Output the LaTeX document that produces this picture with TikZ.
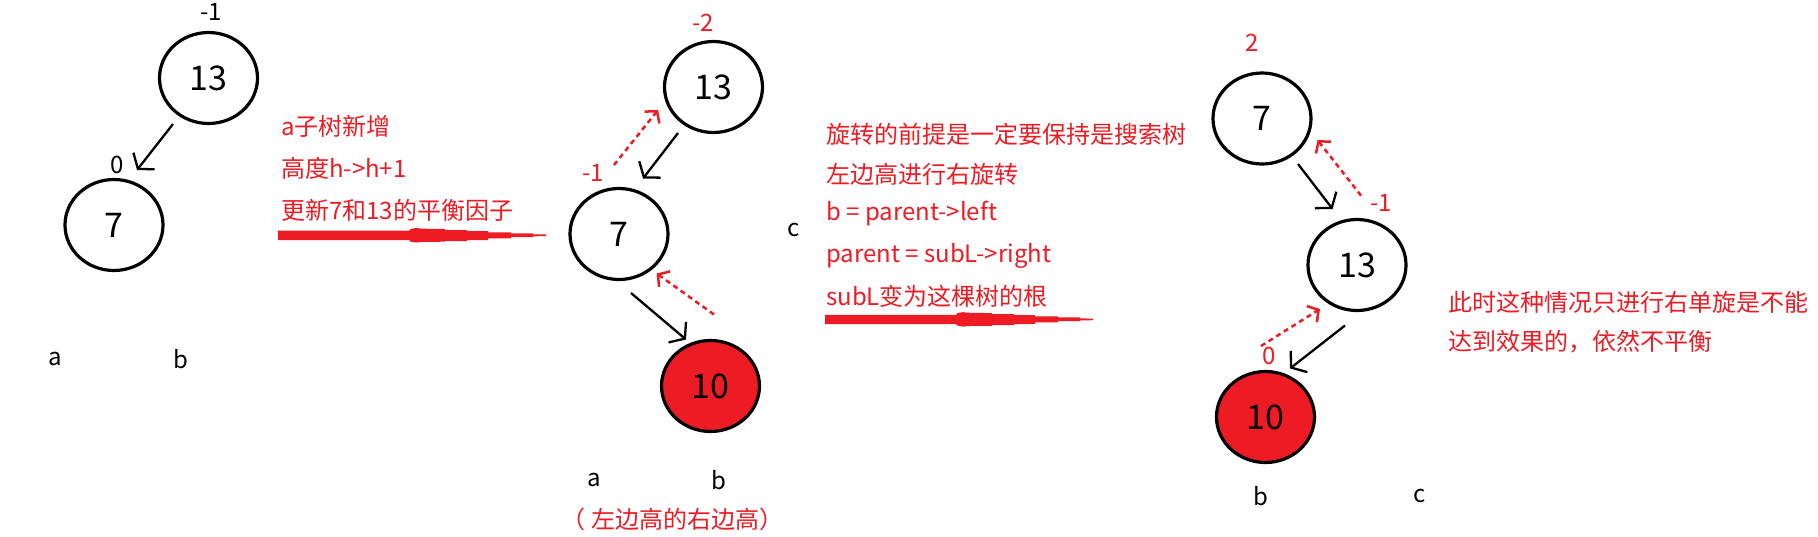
\documentclass[tikz,border=0pt]{standalone}
\usepackage{fontspec}
\setmainfont{Noto Sans CJK SC}
\usetikzlibrary{shapes.geometric,arrows.meta}
\definecolor{pred}{HTML}{ED1C24}
\begin{document}
\begin{tikzpicture}[x=1pt,y=-1pt,
  tnode/.style={ellipse,draw=black,line width=3.2pt,minimum width=98pt,minimum height=91pt,inner sep=0pt,font=\fontsize{34}{34}\selectfont},
  hot/.style={tnode,fill=pred},
  blab/.style={font=\fontsize{24}{24}\selectfont,inner sep=0pt},
  rlab/.style={blab,text=pred},
  note/.style={rlab,anchor=base west},
  blackarr/.style={line width=2.3pt,-{Straight Barb[length=10pt,width=27pt]}},
  redarr/.style={pred,line width=2.5pt,dash pattern=on 5pt off 4pt,-{Straight Barb[length=8pt,width=19pt]}},
  redbar/.pic={
    \fill[pred] (0,-4.6) -- (131,-4.6) -- (133,-6.5) -- (138,-7.2) -- (145,-6.6) -- (167,-6.3) -- (167,-5.3) -- (189,-5.3) -- (189,-4.3) -- (210,-4.3) -- (210,-3) -- (233,-3) -- (233,-2) -- (255,-2) -- (255,-1) -- (268,-0.8) -- (268,0.8) -- (255,1) -- (255,1.7) -- (233,1.7) -- (233,3) -- (210,3) -- (210,4.7) -- (189,4.7) -- (189,5.7) -- (167,5.7) -- (167,6.4) -- (145,6.6) -- (138,7.2) -- (133,6.5) -- (131,4.7) -- (0,4.7) -- cycle;
  }
]
\fill[white] (0,0) rectangle (1818,536);
\useasboundingbox (0,0) rectangle (1818,536);

% ---------- tree 1 ----------
\node[tnode] (t1a) at (208.5,78) {13};
\node[tnode] (t1b) at (114,225) {7};
\node[blab] (t1fa) at (211,12) {-1};
\node[blab] (t1fb) at (117,165) {0};
\node[blab] (t1la) at (55.5,359) {a};
\node[blab] (t1lb) at (181,359) {b};
\draw[blackarr] ([shift={(-35.5,46)}]t1a.center) -- ([shift={(23,-55)}]t1b.center);

\node[note] (n1a) at (281,135) {a子树新增};
\node[note] (n1b) at (281,177.5) {高度h->h+1};
\node[note] (n1c) at (281,219.5) {更新7和13的平衡因子};
\pic at (278,235.3) {redbar};

% ---------- tree 2 ----------
\node[tnode] (t2a) at (713.5,87) {13};
\node[tnode] (t2b) at (619,234) {7};
\node[hot] (t2c) at (710.5,386) {10};
\node[rlab] (t2fa) at (703,23) {-2};
\node[rlab] (t2fb) at (593,172.6) {-1};
\node[blab] (t2lc) at (794,230) {c};
\node[blab] (t2la) at (594,480) {a};
\node[blab] (t2lb) at (719,480) {b};
\node[rlab,anchor=base] (t2cap) at (672.5,528) {（ 左边高的右边高）};
\draw[blackarr] ([shift={(-35.5,46)}]t2a.center) -- ([shift={(24,-55.5)}]t2b.center);
\draw[blackarr] ([shift={(12,59)}]t2b.center) -- ([shift={(-24.5,-46.5)}]t2c.center);
\draw[redarr] ([shift={(-5,-69)}]t2b.center) -- ([shift={(-55.5,23)}]t2a.center);
\draw[redarr] ([shift={(3.5,-71.5)}]t2c.center) -- ([shift={(37.7,39.5)}]t2b.center);

\node[note] (n2a) at (826,143) {旋转的前提是一定要保持是搜索树};
\node[note] (n2b) at (826,183) {左边高进行右旋转};
\node[note] (n2c) at (826,220) {b = parent->left};
\node[note] (n2d) at (826,262) {parent = subL->right};
\node[note] (n2e) at (826,305) {subL变为这棵树的根};
\pic at (825,319.4) {redbar};

% ---------- tree 3 ----------
\node[tnode] (t3a) at (1262,118.5) {7};
\node[tnode] (t3b) at (1357,265) {13};
\node[hot] (t3c) at (1265.5,417) {10};
\node[rlab] (t3fa) at (1252,42.7) {2};
\node[rlab] (t3fb) at (1381,203) {-1};
\node[rlab] (t3fc) at (1269.5,355.6) {0};
\node[blab] (t3lb) at (1261,496) {b};
\node[blab] (t3lc) at (1420,496) {c};
\draw[blackarr] ([shift={(36,45.5)}]t3a.center) -- ([shift={(-24.4,-56)}]t3b.center);
\draw[blackarr] ([shift={(-12,60.5)}]t3b.center) -- ([shift={(24.5,-48.5)}]t3c.center);
\draw[redarr] ([shift={(4,-69.4)}]t3b.center) -- ([shift={(55.5,21.5)}]t3a.center);
\draw[redarr] ([shift={(-4.5,-71)}]t3c.center) -- ([shift={(-37,44)}]t3b.center);

\node[note] (n3a) at (1448.5,311) {此时这种情况只进行右单旋是不能};
\node[note] (n3b) at (1448.5,350) {达到效果的，依然不平衡};
\end{tikzpicture}
\end{document}
